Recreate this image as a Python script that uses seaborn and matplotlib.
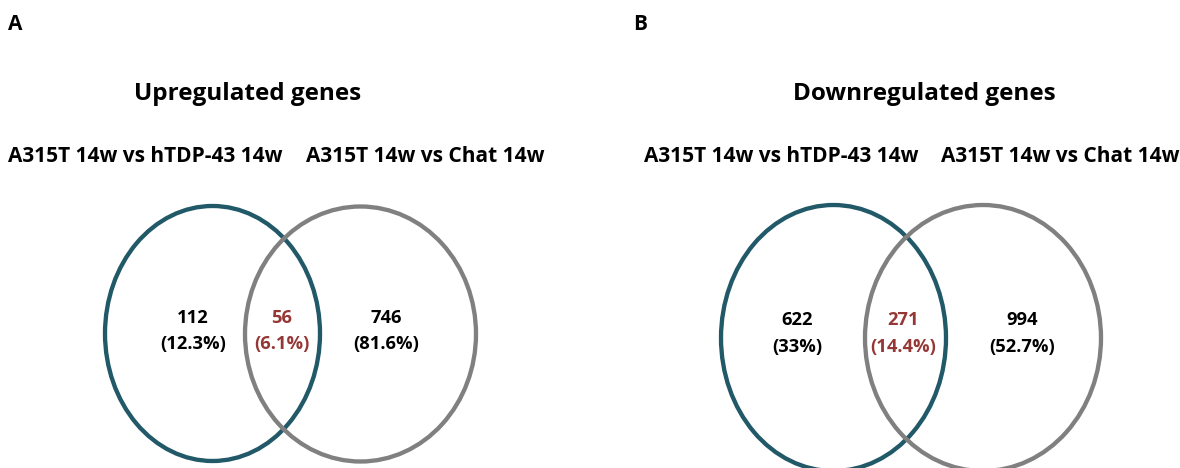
import numpy as np
import matplotlib
matplotlib.use("Agg")
import matplotlib.pyplot as plt
from matplotlib.patches import Ellipse
import seaborn as sns

# Data
panel_letters = ["A", "B"]
panel_titles = ["Upregulated genes", "Downregulated genes"]
set_names = ["A315T 14w vs hTDP-43 14w", "A315T 14w vs Chat 14w"]
up_counts = [112, 56, 746]
up_pcts = [12.3, 6.1, 81.6]
down_counts = [622, 271, 994]
down_pcts = [33, 14.4, 52.7]

sns.set_theme(style="white")
plt.rcParams["font.family"] = ["Open Sans", "DejaVu Sans"]

set_colors = sns.color_palette(["#215968", "#808080"])
overlap_color = "#953735"

# layout in pixels (figure is 1180 x 468)
panels = [
    dict(letter_x=15, title_x=248, label_x=[145, 425],
         ellipses=[(212.5, 333.5, 215, 255), (360.5, 334, 231, 255)],
         text_x=[193, 282, 386], text_y=[318, 344],
         counts=up_counts, pcts=up_pcts),
    dict(letter_x=640, title_x=924, label_x=[781, 1060],
         ellipses=[(833.5, 338, 225, 266), (983, 338, 236, 266)],
         text_x=[797, 903, 1022], text_y=[320, 347],
         counts=down_counts, pcts=down_pcts),
]

fig = plt.figure(figsize=(11.8, 4.68), dpi=100)
ax = fig.add_axes([0, 0, 1, 1])
ax.set_xlim(0, 1180)
ax.set_ylim(468, 0)
ax.axis("off")

for i, p in enumerate(panels):
    ax.text(p["letter_x"], 24, panel_letters[i], fontsize=15, fontweight="bold",
            ha="center", va="center", color="black")
    ax.text(p["title_x"], 94, panel_titles[i], fontsize=17.5, fontweight="bold",
            ha="center", va="center", color="black")
    for j in range(2):
        ax.text(p["label_x"][j], 156, set_names[j], fontsize=15, fontweight="bold",
                ha="center", va="center", color="black")

    for j, (cx, cy, w, h) in enumerate(p["ellipses"]):
        ax.add_patch(Ellipse((cx, cy), w, h, fill=False, lw=3.1,
                             edgecolor=set_colors[j], clip_on=False))

    for k in range(3):
        col = overlap_color if k == 1 else "black"
        ax.text(p["text_x"][k], p["text_y"][0], str(p["counts"][k]), fontsize=13.2,
                fontweight="bold", ha="center", va="center", color=col)
        ax.text(p["text_x"][k], p["text_y"][1], f"({p['pcts'][k]:g}%)", fontsize=13.2,
                fontweight="bold", ha="center", va="center", color=col)

fig.savefig("out.png", dpi=100)
